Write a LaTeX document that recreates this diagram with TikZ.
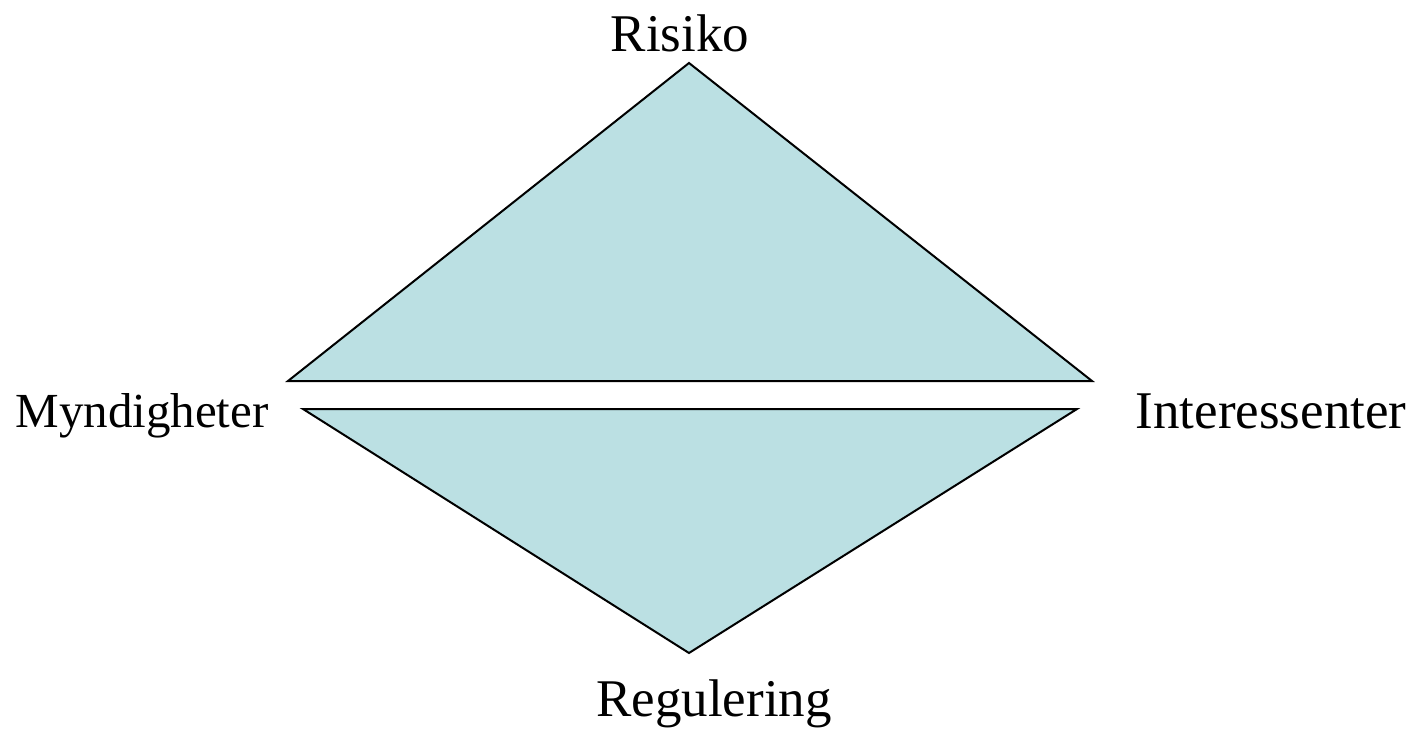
\documentclass[tikz,border=0pt]{standalone}
\usepackage{fontspec}
\setmainfont{Liberation Serif}
\definecolor{tri}{HTML}{BBE0E3}
\begin{document}
\begin{tikzpicture}[x=1pt,y=-1pt,
  tribox/.style={draw=black,fill=tri,line width=2pt,line join=miter},
  lbl/.style={inner sep=0pt,font=\fontsize{53}{60}\selectfont}]
\useasboundingbox (0,0) rectangle (1425,730);
\coordinate (ua) at (689,63);
\coordinate (ul) at (288,381);
\coordinate (ur) at (1092,381);
\coordinate (ll) at (303,409);
\coordinate (lr) at (1077,409);
\coordinate (lb) at (689,653);
\filldraw[tribox] (ua) -- (ur) -- (ul) -- cycle;
\filldraw[tribox] (ll) -- (lr) -- (lb) -- cycle;
\node[lbl] (risiko) at (680,33) {Risiko};
\node[lbl,font=\fontsize{49}{56}\selectfont] (mynd) at (142,416) {Myndigheter};
\node[lbl] (inter) at (1271,411) {Interessenter};
\node[lbl] (reg) at (714,704) {Regulering};
\end{tikzpicture}
\end{document}
